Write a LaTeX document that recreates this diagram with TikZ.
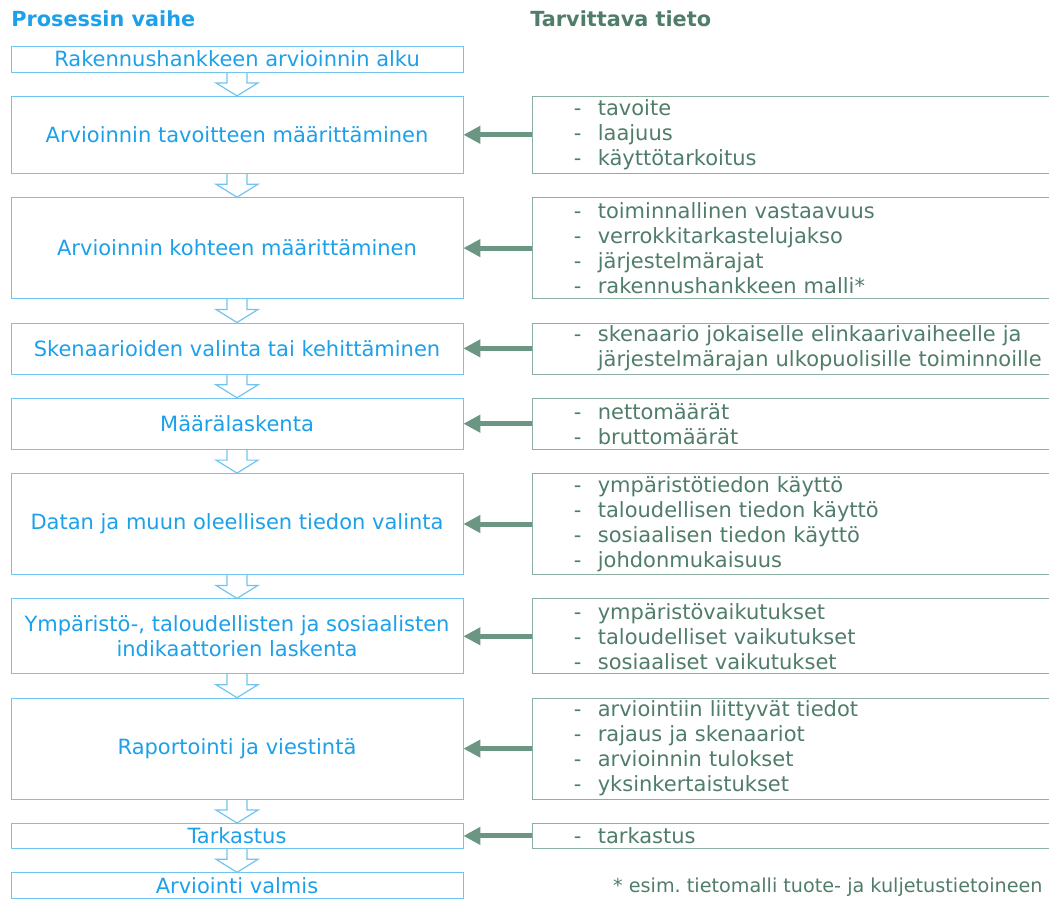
\documentclass[tikz,border=0pt]{standalone}
\usepackage{fontspec}
\setmainfont{DejaVu Sans}
\usepackage{tikz}
\usetikzlibrary{arrows.meta,positioning,calc}
\definecolor{stageblue}{HTML}{1CA0EA}
\definecolor{stageline}{HTML}{72C4F0}
\definecolor{infogreen}{HTML}{4F7D69}
\definecolor{infoline}{HTML}{8CB0A0}
\definecolor{arrgreen}{HTML}{6A9683}

% hollow arrow between two stage boxes
\newcommand\stagearrow[2]{%
  \draw[flow] ($(#1.south)+(-10,0)$) -- ($(#2.north)+(-10,-13)$) -- ++(-11,0)
    -- (#2.north) -- ++(21,-13) -- ++(-11,0) -- ($(#1.south)+(10,0)$);}
\newcommand\dashitem{\makebox[12pt][l]{-}}

\begin{document}
\begin{tikzpicture}[
    x=0.5pt, y=-0.5pt,
    node distance=11.75pt and 34.5pt,
    every node/.style={font=\fontsize{10.5}{12.5}\selectfont},
    stage/.style={draw=stageline, text=stageblue, minimum width=226pt,
                  inner xsep=2pt, inner ysep=0pt, align=center},
    info/.style={draw=infoline, text=infogreen, text width=262pt,
                 inner xsep=20.5pt, inner ysep=0pt, align=left},
    flow/.style={draw=stageline, line width=0.6pt},
    infoarr/.style={-{Triangle[length=8.5pt, width=8.5pt]}, line width=2.5pt, arrgreen},
    head/.style={font=\fontsize{10.4}{12}\selectfont\bfseries, anchor=west}
]
\useasboundingbox (0,0) rectangle (1049,900);

% --- Headings ---
\node[head, text=stageblue, inner sep=0pt] (headl) at (11,19) {Prosessin vaihe};
\node[head, text=infogreen, inner sep=0pt] (headr) at (530,19) {Tarvittava tieto};

% --- Process stages (left) ---
\node[stage, minimum height=13pt] (s1) at (237,59) {Rakennushankkeen arvioinnin alku};
\node[stage, minimum height=38.5pt, below=of s1] (s2) {Arvioinnin tavoitteen määrittäminen};
\node[stage, minimum height=50.5pt, below=of s2] (s3) {Arvioinnin kohteen määrittäminen};
\node[stage, minimum height=25.5pt, below=of s3] (s4) {Skenaarioiden valinta tai kehittäminen};
\node[stage, minimum height=25.5pt, below=of s4] (s5) {Määrälaskenta};
\node[stage, minimum height=50.5pt, below=of s5] (s6) {Datan ja muun oleellisen tiedon valinta};
\node[stage, minimum height=37.5pt, below=of s6] (s7) {Ympäristö-, taloudellisten ja sosiaalisten\\indikaattorien laskenta};
\node[stage, minimum height=50.5pt, below=of s7] (s8) {Raportointi ja viestintä};
\node[stage, minimum height=12.5pt, below=of s8] (s9) {Tarkastus};
\node[stage, minimum height=13pt, below=of s9] (s10) {Arviointi valmis};

\stagearrow{s1}{s2}
\stagearrow{s2}{s3}
\stagearrow{s3}{s4}
\stagearrow{s4}{s5}
\stagearrow{s5}{s6}
\stagearrow{s6}{s7}
\stagearrow{s7}{s8}
\stagearrow{s8}{s9}
\stagearrow{s9}{s10}

% --- Needed information (right) ---
\node[info, minimum height=38.5pt, right=of s2] (i2)
  {\dashitem tavoite\\\dashitem laajuus\\\dashitem käyttötarkoitus};
\node[info, minimum height=50.5pt, right=of s3] (i3)
  {\dashitem toiminnallinen vastaavuus\\\dashitem verrokkitarkastelujakso\\\dashitem järjestelmärajat\\\dashitem rakennushankkeen malli*};
\node[info, minimum height=25.5pt, right=of s4] (i4)
  {\dashitem skenaario jokaiselle elinkaarivaiheelle ja\\\hspace*{12pt}\mbox{järjestelmärajan ulkopuolisille toiminnoille}};
\node[info, minimum height=25.5pt, right=of s5] (i5)
  {\dashitem nettomäärät\\\dashitem bruttomäärät};
\node[info, minimum height=50.5pt, right=of s6] (i6)
  {\dashitem ympäristötiedon käyttö\\\dashitem taloudellisen tiedon käyttö\\\dashitem sosiaalisen tiedon käyttö\\\dashitem johdonmukaisuus};
\node[info, minimum height=37.5pt, right=of s7] (i7)
  {\dashitem ympäristövaikutukset\\\dashitem taloudelliset vaikutukset\\\dashitem sosiaaliset vaikutukset};
\node[info, minimum height=50.5pt, right=of s8] (i8)
  {\dashitem arviointiin liittyvät tiedot\\\dashitem rajaus ja skenaariot\\\dashitem arvioinnin tulokset\\\dashitem yksinkertaistukset};
\node[info, minimum height=12.5pt, right=of s9] (i9) {\dashitem tarkastus};

\draw[infoarr] (i2.west) -- (s2.east);
\draw[infoarr] (i3.west) -- (s3.east);
\draw[infoarr] (i4.west) -- (s4.east);
\draw[infoarr] (i5.west) -- (s5.east);
\draw[infoarr] (i6.west) -- (s6.east);
\draw[infoarr] (i7.west) -- (s7.east);
\draw[infoarr] (i8.west) -- (s8.east);
\draw[infoarr] (i9.west) -- (s9.east);

% footnote
\node[text=infogreen, font=\fontsize{9.6}{11}\selectfont, anchor=east, inner sep=0pt] (note)
  at (1043,887) {* esim.\ tietomalli tuote- ja kuljetustietoineen};

\end{tikzpicture}
\end{document}
